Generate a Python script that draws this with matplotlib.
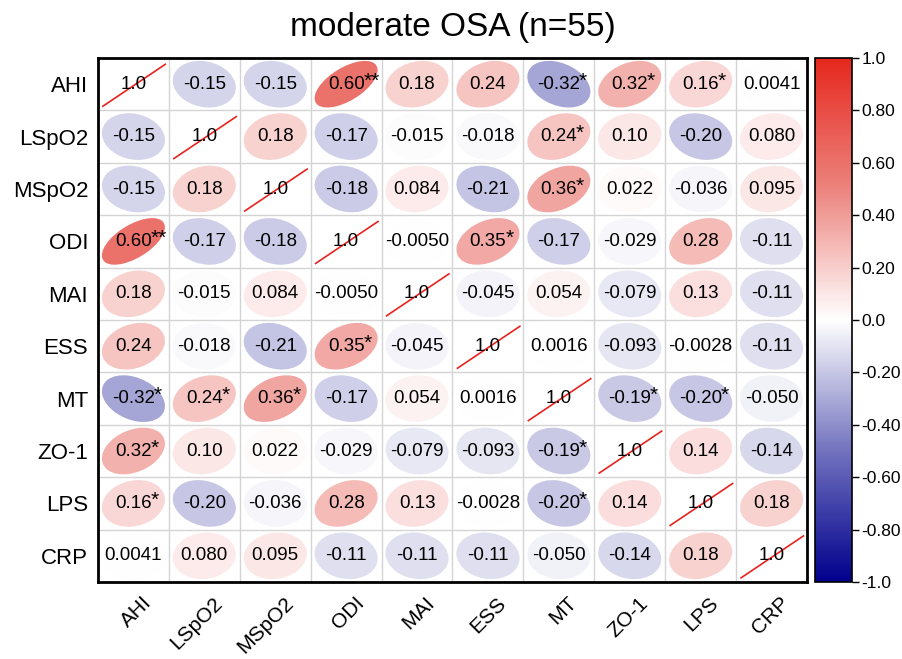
import numpy as np
import matplotlib
matplotlib.use('Agg')
import matplotlib.pyplot as plt
from matplotlib.patches import Ellipse
from matplotlib.colors import LinearSegmentedColormap, Normalize
from matplotlib.cm import ScalarMappable
import matplotlib.transforms as mtransforms

plt.rcParams['font.family'] = ['Liberation Sans', 'DejaVu Sans']

# 变量名
labels = ['AHI', 'LSpO2', 'MSpO2', 'ODI', 'MAI', 'ESS', 'MT', 'ZO-1', 'LPS', 'CRP']

# 相关系数矩阵
r_mat = np.array([
    [1.0, -0.15, -0.15, 0.60, 0.18, 0.24, -0.32, 0.32, 0.16, 0.0041],
    [-0.15, 1.0, 0.18, -0.17, -0.015, -0.018, 0.24, 0.10, -0.20, 0.080],
    [-0.15, 0.18, 1.0, -0.18, 0.084, -0.21, 0.36, 0.022, -0.036, 0.095],
    [0.60, -0.17, -0.18, 1.0, -0.0050, 0.35, -0.17, -0.029, 0.28, -0.11],
    [0.18, -0.015, 0.084, -0.0050, 1.0, -0.045, 0.054, -0.079, 0.13, -0.11],
    [0.24, -0.018, -0.21, 0.35, -0.045, 1.0, 0.0016, -0.093, -0.0028, -0.11],
    [-0.32, 0.24, 0.36, -0.17, 0.054, 0.0016, 1.0, -0.19, -0.20, -0.050],
    [0.32, 0.10, 0.022, -0.029, -0.079, -0.093, -0.19, 1.0, 0.14, -0.14],
    [0.16, -0.20, -0.036, 0.28, 0.13, -0.0028, -0.20, 0.14, 1.0, 0.18],
    [0.0041, 0.080, 0.095, -0.11, -0.11, -0.11, -0.050, -0.14, 0.18, 1.0],
])

# 显著性标记 (上三角)
sig_pairs = {(0, 3): '**', (0, 6): '*', (0, 7): '*', (0, 8): '*',
             (1, 6): '*', (2, 6): '*', (3, 5): '*', (6, 7): '*', (6, 8): '*'}

cbar_ticks = [-1.0, -0.8, -0.6, -0.4, -0.2, 0.0, 0.2, 0.4, 0.6, 0.8, 1.0]
cbar_labels = ['-1.0', '-0.80', '-0.60', '-0.40', '-0.20', '0.0', '0.20', '0.40', '0.60', '0.80', '1.0']


def fmt2(v):
    # 两位有效数字，保留末尾的0
    if v == 0:
        return '0.0'
    dp = max(1, 1 - int(np.floor(np.log10(abs(v)))))
    return f'{v:.{dp}f}'


cmap = LinearSegmentedColormap.from_list(
    'bwr2', [(0.0, '#00008c'), (0.25, '#7272bf'), (0.5, '#ffffff'),
             (0.75, '#ec847e'), (1.0, '#e6281e')])
norm = Normalize(-1, 1)

n = len(labels)
fig = plt.figure(figsize=(9.02, 6.59), dpi=100)
ax = fig.add_axes([0.1086, 0.1168, 0.7861, 0.7952])
ax.set_xlim(0, n)
ax.set_ylim(0, n)

a = 0.89
for i in range(n):
    for j in range(n):
        r = r_mat[i, j]
        cx = j + 0.5
        cy = n - 1 - i + 0.5
        if i == j:
            ax.plot([j + 0.07, j + 0.95], [cy - 0.42, cy + 0.38], color='#e8221e', lw=1.2, zorder=3)
        else:
            ang = 45 if r > 0 else -45
            e = Ellipse((cx, cy), a * np.sqrt(1 + abs(r)), a * np.sqrt(1 - abs(r)), angle=ang,
                        facecolor=cmap(norm(r)), edgecolor='none', zorder=2)
            ax.add_patch(e)
        t = ax.text(cx, cy, fmt2(r), ha='center', va='center', fontsize=13.5, zorder=4)
        star = sig_pairs.get((min(i, j), max(i, j)))
        if star:
            ax.annotate(star, xy=(0.97, 1.0), xycoords=t, xytext=(0, 3), textcoords='offset points',
                        ha='left', va='top', fontsize=15, zorder=5)

# 网格线
for k in range(1, n):
    ax.axhline(k, color='#d4d4d4', lw=1, zorder=1)
    ax.axvline(k, color='#d4d4d4', lw=1, zorder=1)

for s in ax.spines.values():
    s.set_linewidth(2)
    s.set_color('black')

ax.set_xticks(np.arange(n) + 0.5)
ax.set_yticks(np.arange(n) + 0.5)
ax.set_yticklabels(labels[::-1], fontsize=16)
ax.set_xticklabels(labels, fontsize=15, rotation=45, ha='right', va='center', rotation_mode='anchor')
ax.tick_params(length=0, axis='y', pad=7)
ax.tick_params(length=0, axis='x', pad=0)
offset = mtransforms.ScaledTranslation(15 / 100, -18 / 100, fig.dpi_scale_trans)
for lab in ax.get_xticklabels():
    lab.set_transform(lab.get_transform() + offset)

ax.set_title('moderate OSA (n=55)', fontsize=24, pad=16)

# 颜色条
cax = fig.add_axes([0.9035, 0.1168, 0.041, 0.7952])
cb = fig.colorbar(ScalarMappable(norm=norm, cmap=cmap), cax=cax, ticks=cbar_ticks)
cb.ax.set_yticklabels(cbar_labels, fontsize=12.5)
cb.ax.tick_params(length=5, width=1, direction='out', pad=2)
cb.outline.set_linewidth(1.2)

fig.savefig('out.png', dpi=100)
